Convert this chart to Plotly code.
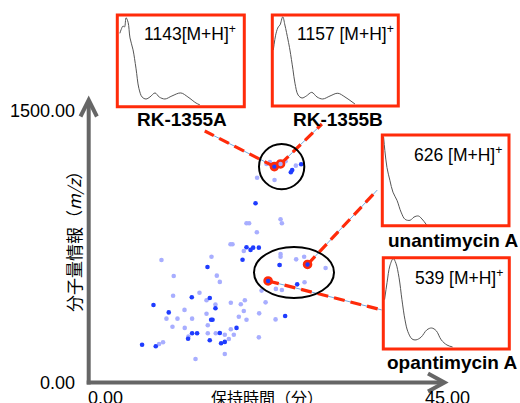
import plotly.graph_objects as go

# ---------------- data ----------------
# background compounds (retention time [min], m/z)
dark_rt = [21.07, 8.18, 6.74, 8.47, 10.11, 13.02, 15.29, 16.01, 15.46, 15.64,
           13.06, 13.69, 12.55, 15.29, 16.56, 17.19, 16.72, 18.67, 19.43, 19.93,
           20.44, 20.77, 21.49, 15.00, 24.10, 25.53, 25.70, 26.83, 26.33, 24.81]
dark_mz = [949, 412, 202, 194, 373, 453, 449, 395, 334, 334,
           263, 263, 234, 226, 264, 217, 210, 291, 651, 717,
           703, 715, 715, 613, 623, 1113, 1125, 1155, 521, 354]

light_rt = [19.93, 20.26, 21.24, 17.91, 18.16, 19.59, 9.19, 15.51, 10.74, 16.18,
            16.56, 10.66, 13.99, 14.88, 16.01, 17.95, 19.21, 19.72, 12.10, 14.88,
            19.59, 18.96, 19.93, 9.82, 11.21, 13.06, 10.58, 12.13, 15.04, 17.95,
            15.04, 16.05, 17.19, 18.33, 12.60, 17.70, 8.89, 9.39, 17.19, 13.49,
            21.49, 21.53, 24.23, 24.40, 26.20, 24.23, 24.23, 23.47, 22.46, 22.88,
            24.86, 26.16, 21.27, 27.21, 24.14, 29.92, 23.64, 24.40, 27.26, 22.34,
            23.60, 21.83]
light_mz = [844, 844, 796, 733, 733, 697, 650, 667, 565, 567,
            534, 461, 477, 437, 414, 424, 416, 437, 386, 366,
            380, 350, 334, 340, 340, 340, 297, 291, 305, 284,
            263, 263, 255, 255, 245, 232, 206, 215, 153, 127,
            241, 368, 865, 844, 653, 681, 667, 1072, 1157, 1167,
            1171, 1148, 1084, 667, 623, 607, 497, 491, 532, 426,
            336, 488]

# highlighted compounds
hit_names = ["RK-1355A", "RK-1355B", "unantimycin A", "opantimycin A"]
hit_mz_text = ["1143[M+H]", "1157 [M+H]", "626 [M+H]", "539 [M+H]"]
hit_rt = [23.45, 24.23, 27.64, 22.66]
hit_mz = [1143, 1157, 626, 539]
hit_dark = [True, False, True, True]

# inset spectra (normalised)
rk1355a_x = [0.02, 0.03, 0.045, 0.057, 0.069, 0.085, 0.10, 0.124, 0.147, 0.17, 0.195, 0.226,
             0.257, 0.297, 0.33, 0.375, 0.43, 0.50, 0.556, 0.62, 0.65]
rk1355a_y = [0.80, 0.84, 0.88, 0.87, 0.97, 0.92, 0.75, 0.62, 0.42, 0.20, 0.106, 0.084,
             0.106, 0.15, 0.106, 0.084, 0.117, 0.15, 0.106, 0.04, 0.02]
rk1355b_x = [0.008, 0.03, 0.048, 0.061, 0.083, 0.10, 0.125, 0.14, 0.164, 0.18, 0.205, 0.236,
             0.27, 0.313, 0.355, 0.40, 0.458, 0.52, 0.577, 0.656]
rk1355b_y = [0.615, 0.80, 0.87, 0.89, 0.98, 0.89, 0.725, 0.615, 0.40, 0.25, 0.12, 0.088,
             0.11, 0.15, 0.099, 0.077, 0.11, 0.14, 0.099, 0.022]
unanti_x = [0.01, 0.02, 0.037, 0.06, 0.084, 0.116, 0.148, 0.18, 0.22, 0.25, 0.285, 0.313, 0.35]
unanti_y = [0.98, 0.83, 0.64, 0.50, 0.37, 0.28, 0.15, 0.07, 0.06, 0.095, 0.107, 0.074, 0.008]
opanti_x = [0.01, 0.03, 0.052, 0.079, 0.10, 0.125, 0.148, 0.172, 0.195, 0.228, 0.26, 0.30,
            0.346, 0.384, 0.42, 0.46, 0.505, 0.55]
opanti_y = [0.54, 0.73, 0.91, 0.99, 0.94, 0.78, 0.54, 0.32, 0.19, 0.11, 0.10, 0.13,
            0.21, 0.23, 0.20, 0.10, 0.044, 0.022]
inset_x = [rk1355a_x, rk1355b_x, unanti_x, opanti_x]
inset_y = [rk1355a_y, rk1355b_y, unanti_y, opanti_y]

x_ticks = ["0.00", "45.00"]
y_ticks = ["0.00", "1500.00"]

# ---------------- layout helpers ----------------
W, H = 520, 403
def PX(x):
    return x / W
def PY(y):
    return 1 - y / H

RED = "#ff2b0a"
GREY = "#666666"
FONT = "Liberation Sans, Arial, Noto Sans CJK JP"
JFONT = "Noto Sans CJK JP, Liberation Sans"

# inset boxes (pixel: x0, x1, y0, y1)
boxes = [(117.3, 244.3, 15, 106.7), (272.3, 398.3, 15, 106),
         (382.3, 509, 135, 225.7), (383.3, 509.3, 257.7, 349)]
label_pos = [(181.7, 120), (337.5, 119.5), (453.3, 240.5), (452.2, 362.5)]
mz_pos = [(141.5, 33), (295, 33), (411.5, 154), (412.5, 277)]
# connector end points in data units (box side)
conn_end = [(14.66, 1331), (29.45, 1368), (36.44, 1019), (37.0, 386)]

fig = go.Figure()

fig.add_trace(go.Scatter(x=light_rt, y=light_mz, mode="markers",
                         marker=dict(size=4.6, color="#a8aeff"), showlegend=False,
                         hoverinfo="skip"))
fig.add_trace(go.Scatter(x=dark_rt, y=dark_mz, mode="markers",
                         marker=dict(size=4.6, color="#1f3cff"), showlegend=False,
                         hoverinfo="skip"))

for i in range(4):
    xs = [hit_rt[i], conn_end[i][0]]
    ys = [hit_mz[i], conn_end[i][1]]
    fig.add_trace(go.Scatter(x=xs, y=ys, mode="lines",
                             line=dict(color="#6fa8e0", width=1),
                             showlegend=False, hoverinfo="skip"))
    fig.add_trace(go.Scatter(x=xs, y=ys, mode="lines",
                             line=dict(color=RED, width=3.2, dash="11px,6px"),
                             showlegend=False, hoverinfo="skip"))

fig.add_trace(go.Scatter(x=hit_rt, y=hit_mz, mode="markers",
                         marker=dict(size=7,
                                     color=["#1f3cff" if d else "#a8aeff" for d in hit_dark],
                                     line=dict(color=RED, width=2.6)),
                         showlegend=False, hoverinfo="skip"))

# insets
for i in range(4):
    n = i + 2
    x0, x1, y0, y1 = boxes[i]
    fig.add_trace(go.Scatter(x=inset_x[i], y=inset_y[i], mode="lines",
                             line=dict(color="#555555", width=1, shape="spline"),
                             xaxis=f"x{n}", yaxis=f"y{n}", showlegend=False,
                             hoverinfo="skip"))
    fig.update_layout(**{
        f"xaxis{n}": dict(domain=[PX(x0), PX(x1)], range=[0, 1], visible=False,
                          anchor=f"y{n}", fixedrange=True),
        f"yaxis{n}": dict(domain=[PY(y1), PY(y0)], range=[0, 1], visible=False,
                          anchor=f"x{n}", fixedrange=True),
    })

shapes = []
for (x0, x1, y0, y1) in boxes:
    shapes.append(dict(type="rect", xref="paper", yref="paper",
                       x0=PX(x0), x1=PX(x1), y0=PY(y1), y1=PY(y0),
                       line=dict(color=RED, width=3)))
# highlight ellipses
shapes.append(dict(type="circle", xref="paper", yref="paper",
                   x0=PX(259), x1=PX(304.3), y0=PY(189.3), y1=PY(144),
                   line=dict(color="black", width=2)))
shapes.append(dict(type="circle", xref="paper", yref="paper",
                   x0=PX(254), x1=PX(334), y0=PY(298), y1=PY(247),
                   line=dict(color="black", width=2)))
# axis arrows
shapes.append(dict(type="line", xref="paper", yref="paper",
                   x0=PX(88.7), x1=PX(88.7), y0=PY(384.5), y1=PY(101),
                   line=dict(color=GREY, width=4)))
shapes.append(dict(type="line", xref="paper", yref="paper",
                   x0=PX(86.7), x1=PX(443), y0=PY(382.5), y1=PY(382.5),
                   line=dict(color=GREY, width=4)))
shapes.append(dict(type="path", xref="paper", yref="paper",
                   path=f"M {PX(80.5)},{PY(116.5)} L {PX(88.7)},{PY(100)} L {PX(96.9)},{PY(116.5)}",
                   line=dict(color=GREY, width=4)))
shapes.append(dict(type="path", xref="paper", yref="paper",
                   path=f"M {PX(428)},{PY(373.5)} L {PX(444.5)},{PY(382.5)} L {PX(428)},{PY(391.5)}",
                   line=dict(color=GREY, width=4)))

annotations = []
for i in range(4):
    annotations.append(dict(text=f"<b>{hit_names[i]}</b>", xref="paper", yref="paper",
                            x=PX(label_pos[i][0]), y=PY(label_pos[i][1]),
                            xanchor="center", yanchor="middle", showarrow=False,
                            font=dict(family=FONT, size=19, color="black")))
    annotations.append(dict(text=f"{hit_mz_text[i]}<sup>+</sup>", xref="paper", yref="paper",
                            x=PX(mz_pos[i][0]), y=PY(mz_pos[i][1]),
                            xanchor="left", yanchor="middle", showarrow=False,
                            font=dict(family=FONT, size=17.5, color="black")))
# tick labels
annotations.append(dict(text=y_ticks[1], xref="paper", yref="paper", x=PX(77), y=PY(111),
                        xanchor="right", yanchor="middle", showarrow=False,
                        font=dict(family=FONT, size=18, color="black")))
annotations.append(dict(text=y_ticks[0], xref="paper", yref="paper", x=PX(77), y=PY(383),
                        xanchor="right", yanchor="middle", showarrow=False,
                        font=dict(family=FONT, size=18, color="black")))
annotations.append(dict(text=x_ticks[0], xref="paper", yref="paper", x=PX(86), y=PY(398),
                        xanchor="left", yanchor="middle", showarrow=False,
                        font=dict(family=FONT, size=18, color="black")))
annotations.append(dict(text=x_ticks[1], xref="paper", yref="paper", x=PX(423), y=PY(398),
                        xanchor="left", yanchor="middle", showarrow=False,
                        font=dict(family=FONT, size=18, color="black")))
# axis titles
annotations.append(dict(text="保持時間（分）", xref="paper", yref="paper", x=PX(267), y=PY(397),
                        xanchor="center", yanchor="middle", showarrow=False,
                        font=dict(family=JFONT, size=16, color="black")))
annotations.append(dict(text="分子量情報（<i>m/z</i>）", xref="paper", yref="paper",
                        x=PX(73), y=PY(238), textangle=-90,
                        xanchor="center", yanchor="middle", showarrow=False,
                        font=dict(family=JFONT, size=17, color="black")))

fig.update_layout(
    width=W, height=H,
    margin=dict(l=0, r=0, t=0, b=0, pad=0),
    paper_bgcolor="white", plot_bgcolor="rgba(0,0,0,0)",
    xaxis=dict(domain=[PX(88.7), PX(445)], range=[0, 45], visible=False, fixedrange=True),
    yaxis=dict(domain=[PY(383), PY(99)], range=[0, 1500], visible=False, fixedrange=True),
    shapes=shapes, annotations=annotations,
    showlegend=False,
)

fig.write_html("out.html", config={"displayModeBar": False},
               post_script="document.body.style.margin='0';document.body.style.padding='0';")
